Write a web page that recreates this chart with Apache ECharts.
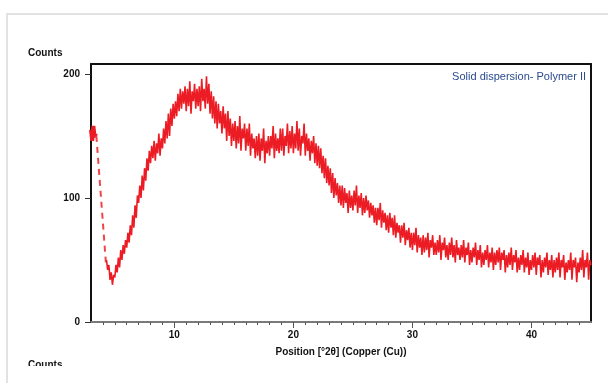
<!DOCTYPE html>
<html>
<head>
<meta charset="utf-8">
<script src="https://cdn.jsdelivr.net/npm/echarts@6/dist/echarts.min.js"></script>
<style>
  html, body { margin: 0; padding: 0; background: #fff; }
  #frame { position: absolute; left: 6px; top: 13px; width: 610px; height: 380px;
           border-top: 2px solid #e2e2e2; border-left: 2px solid #e2e2e2; }
  #chart { position: absolute; left: 0; top: 0; width: 608px; height: 383px; }
  #nextTitle { position: absolute; left: 28px; top: 359px; height: 7px; overflow: hidden;
               font: bold 10px "Liberation Sans", sans-serif; color: #111; }
</style>
</head>
<body>
<div id="frame"></div>
<div id="chart"></div>
<div id="nextTitle">Counts</div>
<script>
// first few steps before the detector gap
const headAngles = [3.0, 3.1, 3.2, 3.3, 3.4];
const headCounts = [155, 146, 158, 149, 152];

// dashed jump down to the scan proper
const gapAngles = [3.45, 4.25];
const gapCounts = [150, 48];

// main scan, 0.1 deg steps from 4.3
const scanStart = 4.3;
const scanStep = 0.1;
const counts = [
  50, 42, 46, 34, 40, 30, 38,
  36, 46, 40, 52, 44, 58, 50, 62, 55, 66,
  60, 72, 64, 78, 70, 86, 76, 94, 84, 102,
  96, 110, 100, 118, 106, 124, 114, 132, 122, 138,
  128, 142, 132, 146, 130, 144, 136, 152, 134, 148,
  140, 156, 144, 162, 148, 168, 150, 172, 158, 176,
  164, 178, 166, 184, 170, 188, 172, 186, 176, 190,
  170, 188, 174, 194, 168, 186, 178, 192, 172, 188,
  174, 190, 170, 196, 178, 188, 172, 198, 176, 192,
  168, 186, 164, 182, 160, 178, 156, 176, 160, 170,
  152, 174, 156, 168, 146, 170, 150, 164, 142, 160,
  146, 162, 140, 158, 144, 166, 138, 156, 148, 160,
  138, 156, 142, 160, 134, 152, 140, 148, 132, 150,
  134, 152, 130, 148, 138, 156, 128, 146, 136, 150,
  134, 150, 140, 158, 132, 152, 138, 148, 136, 156,
  138, 156, 134, 150, 142, 160, 136, 154, 140, 158,
  136, 152, 140, 162, 138, 156, 134, 150, 144, 160,
  134, 152, 138, 148, 130, 146, 136, 150, 128, 144,
  126, 142, 124, 140, 120, 134, 116, 132, 112, 126,
  110, 124, 104, 120, 100, 116, 102, 112, 96, 110,
  94, 110, 92, 108, 96, 104, 88, 106, 92, 102,
  90, 106, 94, 110, 88, 102, 92, 104, 86, 100,
  88, 102, 90, 98, 84, 96, 86, 94, 80, 92,
  78, 92, 82, 96, 76, 90, 80, 88, 74, 86,
  72, 88, 76, 84, 70, 86, 68, 80, 72, 78,
  64, 78, 68, 80, 62, 74, 66, 76, 60, 72,
  58, 72, 62, 76, 56, 70, 60, 68, 54, 70,
  56, 68, 58, 72, 52, 66, 60, 70, 54, 64,
  54, 66, 56, 70, 50, 64, 58, 68, 52, 62,
  50, 64, 54, 68, 52, 62, 48, 66, 54, 60,
  50, 62, 52, 66, 48, 60, 54, 64, 46, 58,
  48, 60, 52, 64, 46, 58, 50, 62, 44, 56,
  46, 58, 50, 62, 44, 56, 48, 60, 42, 56,
  46, 58, 48, 60, 42, 56, 50, 58, 40, 54,
  44, 56, 46, 60, 42, 54, 48, 58, 40, 52,
  42, 54, 46, 58, 40, 52, 44, 56, 38, 50,
  42, 54, 44, 56, 38, 52, 46, 54, 36, 50,
  40, 52, 44, 56, 38, 50, 42, 54, 36, 50,
  40, 52, 42, 56, 36, 50, 44, 54, 34, 48,
  40, 50, 42, 56, 34, 50, 44, 52, 32, 48,
  40, 52, 42, 58, 36, 50, 44, 56, 34, 50,
  46
];

const xMajorTicks = [10, 20, 30, 40];
const xMinorTicks = [4, 5, 6, 7, 8, 9, 11, 12, 13, 14, 15, 16, 17, 18, 19, 21, 22, 23, 24, 25,
  26, 27, 28, 29, 31, 32, 33, 34, 35, 36, 37, 38, 39, 41, 42, 43, 44];
const yTicks = [0, 100, 200];

const FONT = '"Liberation Sans", Arial, sans-serif';

const scanData = counts.map((c, i) => [+(scanStart + i * scanStep).toFixed(2), c]);
const headData = headAngles.map((a, i) => [a, headCounts[i]]);
const gapData = gapAngles.map((a, i) => [a, gapCounts[i]]);

const myChart = echarts.init(document.getElementById('chart'));

const option = {
  animation: false,
  title: {
    text: 'Solid dispersion- Polymer II',
    right: 17,
    top: 66,
    textStyle: { fontFamily: FONT, fontSize: 11, fontWeight: 'normal', color: '#2a4a8e' }
  },
  graphic: [
    { type: 'text', left: 28, top: 48,
      style: { text: 'Counts', font: 'bold 10px ' + FONT, fill: '#111' } }
  ],
  grid: { left: 91, right: 17, top: 64, bottom: 61 },
  xAxis: [
    {
      type: 'value', min: 3, max: 45, position: 'bottom',
      axisLine: { show: true, onZero: false, lineStyle: { color: '#7a7a7a', width: 2 } },
      axisTick: { show: true, customValues: xMajorTicks, length: 6, lineStyle: { color: '#555' } },
      axisLabel: { customValues: xMajorTicks, margin: 8, fontFamily: FONT, fontWeight: 'bold', fontSize: 10, color: '#111' },
      splitLine: { show: false },
      name: 'Position [°2θ] (Copper (Cu))',
      nameLocation: 'middle',
      nameGap: 25,
      nameTextStyle: { fontFamily: FONT, fontWeight: 'bold', fontSize: 10, color: '#111' }
    },
    {
      type: 'value', min: 3, max: 45, position: 'bottom',
      axisLine: { show: false },
      axisTick: { show: true, customValues: xMinorTicks, length: 3, lineStyle: { color: '#555' } },
      axisLabel: { show: false },
      splitLine: { show: false }
    },
    {
      type: 'value', min: 3, max: 45, position: 'top',
      axisLine: { show: true, onZero: false, lineStyle: { color: '#111', width: 2 } },
      axisTick: { show: false },
      axisLabel: { show: false },
      splitLine: { show: false }
    }
  ],
  yAxis: [
    {
      type: 'value', min: 0, max: 208, position: 'left',
      axisLine: { show: true, onZero: false, lineStyle: { color: '#111', width: 2 } },
      axisTick: { show: true, customValues: yTicks, length: 6, lineStyle: { color: '#333' } },
      axisLabel: { customValues: yTicks, margin: 11, fontFamily: FONT, fontWeight: 'bold', fontSize: 10, color: '#111' },
      splitLine: { show: false }
    },
    {
      type: 'value', min: 0, max: 208, position: 'right',
      axisLine: { show: true, onZero: false, lineStyle: { color: '#111', width: 2 } },
      axisTick: { show: false },
      axisLabel: { show: false },
      splitLine: { show: false }
    }
  ],
  series: [
    {
      type: 'line', data: headData, showSymbol: false,
      lineStyle: { color: '#ec1c24', width: 4 }
    },
    {
      type: 'line', data: gapData, showSymbol: false,
      lineStyle: { color: '#f0444b', width: 2, type: [6, 5] }
    },
    {
      type: 'line', data: scanData, showSymbol: false,
      lineStyle: { color: '#ec1c24', width: 1.6 }
    }
  ]
};

myChart.setOption(option);
</script>
</body>
</html>
